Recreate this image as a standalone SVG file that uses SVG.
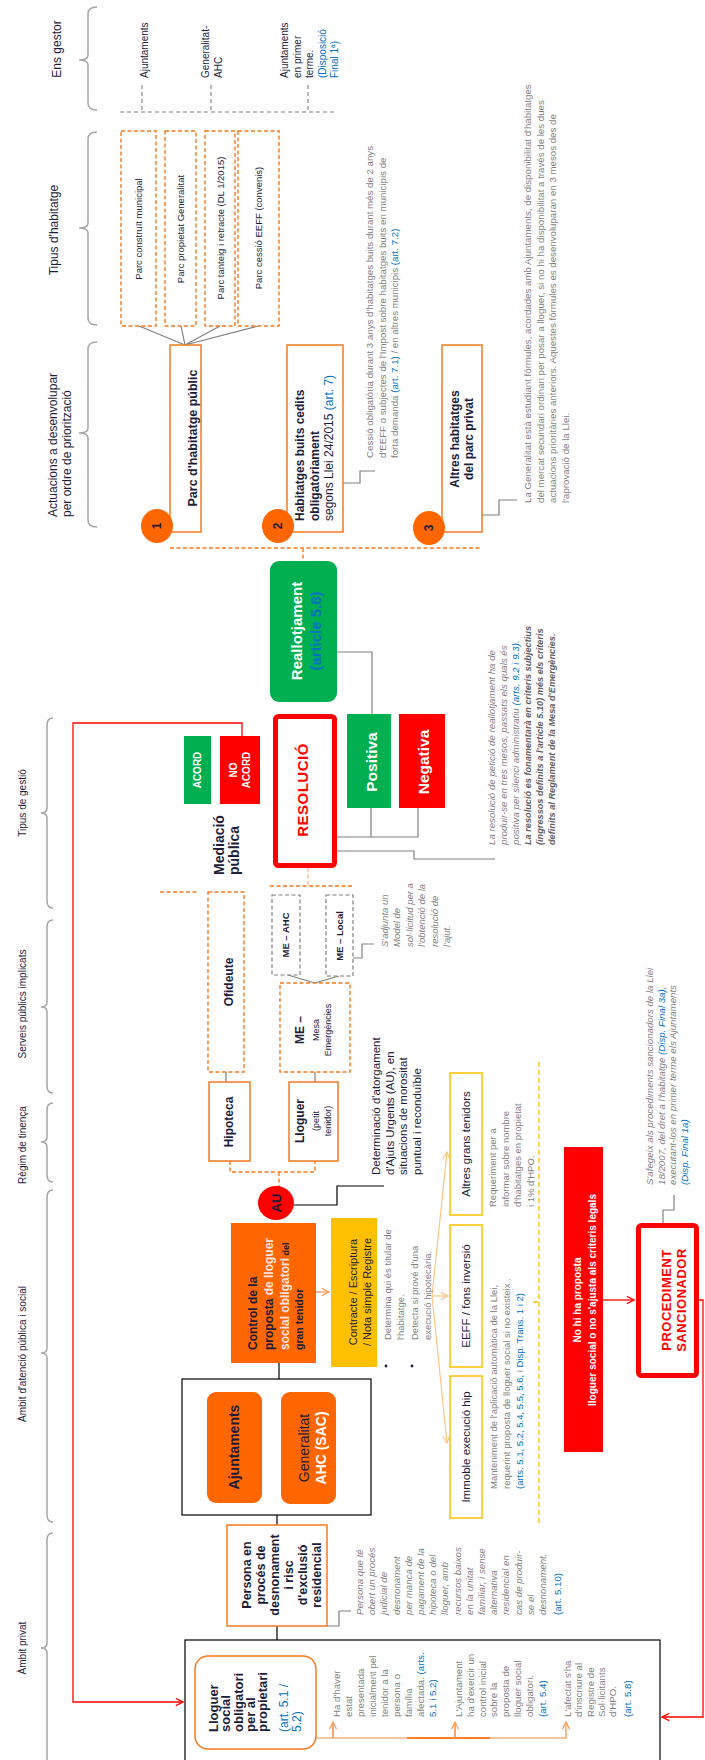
<svg xmlns="http://www.w3.org/2000/svg" width="705" height="1760" viewBox="0 0 705 1760">
<style>
text{font-family:"Liberation Sans",Arial,sans-serif}
.dk{fill:#1c1c3a}.gr{fill:#7f7f7f}.bl{fill:#0070c0}.wh{fill:#fff}.rd{fill:#f00}
.b{font-weight:bold}.i{font-style:italic}
.m{text-anchor:middle}
.brace{fill:none;stroke:#a6a6a6;stroke-width:1.5}
.od{fill:#fff;stroke:#f47b20;stroke-width:1.4;stroke-dasharray:4 2.5}
.odl{fill:none;stroke:#f47b20;stroke-width:1.4;stroke-dasharray:4 2.5}
.ob{fill:#fff;stroke:#f47b20;stroke-width:1.5}
.gd{fill:#fff;stroke:#808080;stroke-width:1.2;stroke-dasharray:4 2.5}
.gl{fill:none;stroke:#808080;stroke-width:1.2}
.gdl{fill:none;stroke:#808080;stroke-width:1.1;stroke-dasharray:4 3}
.kl{fill:none;stroke:#000;stroke-width:1.2}
.yb{fill:#fff;stroke:#ffc000;stroke-width:1.5}
.n10{font-size:10px}.n97{font-size:9.7px}
</style>
<defs>
<marker id="aR" viewBox="0 0 10 10" refX="9" refY="5" markerWidth="9" markerHeight="9" markerUnits="userSpaceOnUse" orient="auto"><path d="M1,1 L9,5 L1,9" fill="none" stroke="#f00" stroke-width="1.4"/></marker>
<marker id="aO" viewBox="0 0 10 10" refX="9" refY="5" markerWidth="9" markerHeight="9" markerUnits="userSpaceOnUse" orient="auto"><path d="M1,1 L9,5 L1,9" fill="none" stroke="#f4a060" stroke-width="1.4"/></marker>
<marker id="aY" viewBox="0 0 10 10" refX="9" refY="5" markerWidth="9" markerHeight="9" markerUnits="userSpaceOnUse" orient="auto"><path d="M1,1 L9,5 L1,9" fill="none" stroke="#f9c784" stroke-width="1.3"/></marker>
</defs>
<rect width="705" height="1760" fill="#fff"/>

<g id="labels">
<path class="brace" d="M97,7 Q88,7 88,14 L88,55 Q88,60 79,60 Q88,60 88,65 L88,103 Q88,110 97,110"/>
<path class="brace" d="M97,132 Q88,132 88,139 L88,223 Q88,228 79,228 Q88,228 88,233 L88,318 Q88,325 97,325"/>
<path class="brace" d="M97,342 Q88,342 88,349 L88,428 Q88,433 79,433 Q88,433 88,438 L88,520 Q88,527 97,527"/>
<path class="brace" d="M53,718 Q47,718 47,725 L47,808 Q47,813 41,813 Q47,813 47,818 L47,901 Q47,908 53,908"/>
<path class="brace" d="M53,920 Q47,920 47,927 L47,1002 Q47,1007 41,1007 Q47,1007 47,1012 L47,1086 Q47,1093 53,1093"/>
<path class="brace" d="M53,1103 Q47,1103 47,1110 L47,1137 Q47,1142 41,1142 Q47,1142 47,1147 L47,1175 Q47,1182 53,1182"/>
<path class="brace" d="M53,1190 Q47,1190 47,1197 L47,1348 Q47,1353 41,1353 Q47,1353 47,1358 L47,1515 Q47,1522 53,1522"/>
<path class="brace" d="M53,1533 Q47,1533 47,1540 L47,1643 Q47,1648 41,1648 Q47,1648 47,1653 L47,1775"/>
<text class="dk m" font-size="12" transform="translate(61,49) rotate(-90)">Ens gestor</text>
<text class="dk m" font-size="12" transform="translate(58,230) rotate(-90)">Tipus d'habitatge</text>
<text class="dk" font-size="12" transform="translate(57,517) rotate(-90)"><tspan x="0" y="0">Actuacions a desenvolupar</tspan><tspan x="0" dy="14">per ordre de priorització</tspan></text>
<text class="dk m n10" transform="translate(26,803) rotate(-90)">Tipus de gestió</text>
<text class="dk m n10" transform="translate(26,1004) rotate(-90)">Serveis públics implicats</text>
<text class="dk m n10" transform="translate(26,1145) rotate(-90)">Règim de tinença</text>
<text class="dk m n10" transform="translate(26,1354) rotate(-90)">Àmbit d'atenció pública i social</text>
<text class="dk m n10" transform="translate(26,1648) rotate(-90)">Àmbit privat</text>
</g>

<g id="connectors">
<path class="gdl" d="M142,85 V112 M211,85 V112 M308,85 V112 M120,112 H335"/>
<path class="gl" d="M139,326 L185,345 M181,326 L185,345 M220,326 L185,345 M258,326 L185,345"/>
<path class="gl" d="M343,483 H360 V471 H375"/>
<path class="gl" d="M482,515 H499 V500 H517"/>
<path class="odl" d="M170,548 H480 M303,548 V561"/>
<path class="gl" d="M337,652 H372 V714"/>
<path class="gl" d="M371,808 V837 M418,808 V837 M337,837 H418"/>
<path class="gl" d="M337,851 H414 V859 H495"/>
<path fill="none" stroke="#f00" stroke-width="1.3" d="M242,736 V723 H73 V1702 H183" marker-end="url(#aR)"/>
<path class="odl" d="M160,892 H198 M270,886 H353"/>
<path fill="none" stroke="#f8b88a" stroke-width="1.3" stroke-dasharray="4 2.5" d="M308,868 V886"/>
<path class="gl" d="M288,975 L315,983 M339,976 L315,983"/>
<path class="gl" d="M353,958 H362 V944 H374"/>
<path class="gl" d="M226,1072 V1082 M315,1072 V1082"/>
<path class="odl" d="M230,1161 V1172 H315 V1161 M279,1172 V1187"/>
<path class="kl" d="M294,1205 H337 V1186 H384"/>
<path fill="none" stroke="#f4a060" stroke-width="1.4" d="M316,1292 H329" marker-end="url(#aO)"/>
<path fill="none" stroke="#f9c784" stroke-width="1.2" d="M432,1296 L447,1152" marker-end="url(#aY)"/>
<path fill="none" stroke="#f9c784" stroke-width="1.2" d="M432,1296 L448,1296" marker-end="url(#aY)"/>
<path fill="none" stroke="#f9c784" stroke-width="1.2" d="M432,1296 L447,1443" marker-end="url(#aY)"/>
<path fill="none" stroke="#ffc000" stroke-width="1.4" stroke-dasharray="5 3" d="M539,1062 V1523 M533,1302 H539"/>
<path fill="none" stroke="#f00" stroke-width="1.3" d="M603,1300 H634" marker-end="url(#aR)"/>
<path class="gl" d="M663,1223 V1210 H674 V1195"/>
<path fill="none" stroke="#f00" stroke-width="1.3" d="M699,1300 H703 V1717 H662" marker-end="url(#aR)"/>
<path class="kl" d="M279,1363 V1379 M277,1515 V1525 M277,1626 V1640"/>
<path class="gl" d="M327,1626 H339 V1611 H351"/>
<path fill="none" stroke="#f4b183" stroke-width="1.4" d="M316,1738 H567"/>
<path fill="none" stroke="#ff6600" stroke-width="1.4" d="M407,1738 H490"/>
<path fill="none" stroke="#f4a060" stroke-width="1.4" d="M333,1738 V1722 M455,1738 V1722 M566,1738 V1722" marker-end="url(#aO)"/>
<path fill="none" stroke="#f4a060" stroke-width="1.4" d="M333,1738 V1722" marker-end="url(#aO)"/>
<path fill="none" stroke="#f4a060" stroke-width="1.4" d="M455,1738 V1722" marker-end="url(#aO)"/>
</g>

<g id="gestors">
<text class="dk n10" transform="translate(148,78) rotate(-90)">Ajuntaments</text>
<text class="dk n10" transform="translate(209,78) rotate(-90)"><tspan x="0" y="0">Generalitat-</tspan><tspan x="0" dy="13">AHC</tspan></text>
<text class="dk n10" transform="translate(288,78) rotate(-90)"><tspan x="0" y="0">Ajuntaments</tspan><tspan x="0" dy="12.5">en primer</tspan><tspan x="0" dy="12.5">terme.</tspan><tspan x="0" dy="12.5" class="bl">(Disposició</tspan><tspan x="0" dy="12.5" class="bl">Final 1ª)</tspan></text>
</g>

<g id="parc-municipal"><rect class="od" x="121" y="131" width="35" height="195"/><text class="dk m" font-size="9.5" transform="translate(142,229) rotate(-90)">Parc construït municipal</text></g>
<g id="parc-generalitat"><rect class="od" x="165" y="131" width="31" height="195"/><text class="dk m" font-size="9.5" transform="translate(184,229) rotate(-90)">Parc propietat Generalitat</text></g>
<g id="parc-tanteig"><rect class="od" x="205" y="131" width="30" height="195"/><text class="dk m" font-size="9.5" transform="translate(224,228) rotate(-90)">Parc tanteig i retracte (DL 1/2015)</text></g>
<g id="parc-eeff"><rect class="od" x="238" y="131" width="41" height="195"/><text class="dk m" font-size="9.5" transform="translate(262,228) rotate(-90)">Parc cessió EEFF (convenis)</text></g>

<g id="act1"><rect class="ob" x="170" y="345" width="31" height="187"/><text class="dk m b" font-size="12.5" transform="translate(197,438) rotate(-90)">Parc d'habitatge públic</text>
<ellipse cx="157" cy="526" rx="16" ry="17" fill="#ff6600"/><text class="dk m b" font-size="12" transform="translate(161,526) rotate(-90)">1</text></g>
<g id="act2"><rect class="ob" x="287" y="345" width="56" height="187"/>
<text class="dk" font-size="12" transform="translate(304,521) rotate(-90)"><tspan x="0" y="0" class="b">Habitatges buits cedits</tspan><tspan x="0" dy="14.5" class="b">obligatòriament</tspan><tspan x="0" dy="14.5">segons Llei 24/2015 <tspan class="bl">(art. 7)</tspan></tspan></text>
<ellipse cx="278" cy="526" rx="16" ry="17" fill="#ff6600"/><text class="dk m b" font-size="12" transform="translate(282,526) rotate(-90)">2</text></g>
<g id="act3"><rect class="ob" x="442" y="345" width="40" height="187"/>
<text class="dk m b" font-size="12" transform="translate(459,439) rotate(-90)"><tspan x="0" y="0">Altres habitatges</tspan><tspan x="0" dy="13.5">del parc privat</tspan></text>
<ellipse cx="429" cy="528" rx="16" ry="17" fill="#ff6600"/><text class="dk m b" font-size="12" transform="translate(433,528) rotate(-90)">3</text></g>

<g id="note-act2"><text class="gr n97" transform="translate(373,458) rotate(-90)"><tspan x="0" y="0">Cessió obligatòria  durant 3 anys d'habitatges buits durant més de 2 anys</tspan><tspan x="0" dy="12.5">d'EEFF o  subjectes de l'Impost sobre habitatges buits en municipis de</tspan><tspan x="0" dy="12.5">forta demanda <tspan class="bl">(art. 7.1)</tspan> / en altres municipis <tspan class="bl">(art. 7.2)</tspan></tspan></text></g>
<g id="note-act3"><text class="gr n97" transform="translate(531,503) rotate(-90)"><tspan x="0" y="0">La Generalitat està estudiant fórmules, acordades amb Ajuntaments, de disponibilitat d'habitatges</tspan><tspan x="0" dy="12.5">del mercat secundari ordinari per posar a lloguer, si no hi ha disponibilitat a través de les dues</tspan><tspan x="0" dy="12.5">actuacions prioritàries anteriors. Aquestes fórmules es desenvoluparan en 3 mesos des de</tspan><tspan x="0" dy="12.5">l'aprovació de la Llei.</tspan></text></g>

<g id="reallotjament"><rect x="270" y="561" width="67" height="141" rx="9" fill="#00b050"/>
<text class="m b" font-size="15" transform="translate(302,631) rotate(-90)"><tspan x="0" y="0" class="wh">Reallotjament</tspan><tspan x="0" dy="19" class="bl">(article 5.6)</tspan></text></g>

<g id="resolucio"><rect x="275.5" y="716.5" width="59" height="149" rx="3" fill="#fff" stroke="#f00" stroke-width="5"/>
<text class="rd m b" font-size="15" letter-spacing="0.5" transform="translate(308,790) rotate(-90)">RESOLUCIÓ</text></g>
<g id="positiva"><rect x="347" y="714" width="44" height="94" fill="#00b050"/><text class="wh m b" font-size="15.5" transform="translate(377,762) rotate(-90)">Positiva</text></g>
<g id="negativa"><rect x="399" y="714" width="46" height="94" fill="#f00"/><text class="wh m b" font-size="15.5" transform="translate(429,762) rotate(-90)">Negativa</text></g>
<g id="note-resolucio"><text class="gr i n97" transform="translate(495,845) rotate(-90)"><tspan x="0" y="0">La resolució de petició de reallotjament ha de</tspan><tspan x="0" dy="12">produir-se en tres mesos, passats els quals és</tspan><tspan x="0" dy="12">positiva per silenci administratiu <tspan class="bl">(arts. 9.2 i 9.3)</tspan>.</tspan><tspan x="0" dy="12" class="b" font-size="9.2" fill="#5f5f5f">La resolució es fonamentarà en criteris subjectius</tspan><tspan x="0" dy="12" class="b" font-size="9.2" fill="#5f5f5f">(ingressos definits a l'article 5.10) més els criteris</tspan><tspan x="0" dy="12" class="b" font-size="9.2" fill="#5f5f5f">definits al Reglament de la Mesa d'Emergències.</tspan></text></g>

<g id="acord"><rect x="184" y="736" width="27" height="68" fill="#00b050"/><text class="wh m b" font-size="10" transform="translate(201,770) rotate(-90)">ACORD</text></g>
<g id="no-acord"><rect x="220" y="736" width="40" height="68" fill="#f00"/><text class="wh m b" font-size="10" transform="translate(237,770) rotate(-90)"><tspan x="0" y="0">NO</tspan><tspan x="0" dy="13">ACORD</tspan></text></g>
<g id="mediacio"><text class="dk b" font-size="14" transform="translate(224,875) rotate(-90)"><tspan x="0" y="0">Mediació</tspan><tspan x="0" dy="14.5">pública</tspan></text></g>

<g id="ofideute"><rect class="od" x="208" y="892" width="36" height="180"/><text class="dk m b" font-size="12" transform="translate(233,982) rotate(-90)">Ofideute</text></g>
<g id="me-ahc"><rect class="gd" x="272" y="895" width="28" height="80"/><text class="dk m b" font-size="9.5" transform="translate(289,935) rotate(-90)">ME – AHC</text></g>
<g id="me-local"><rect class="gd" x="326" y="895" width="27" height="81"/><text class="dk m b" font-size="9.5" transform="translate(343,936) rotate(-90)">ME – Local</text></g>
<g id="note-me"><text class="gr i" font-size="9.5" transform="translate(388,947) rotate(-90)"><tspan x="0" y="0">S'adjunta un</tspan><tspan x="0" dy="12.4">Model de</tspan><tspan x="0" dy="12.4">sol·licitud per a</tspan><tspan x="0" dy="12.4">l'obtenció de la</tspan><tspan x="0" dy="12.4">resolució de</tspan><tspan x="0" dy="12.4">l'ajut.</tspan></text></g>
<g id="me-mesa"><rect class="od" x="280" y="983" width="70" height="89"/>
<text class="dk m" transform="translate(304,1030) rotate(-90)"><tspan x="0" y="0" class="b" font-size="12">ME –</tspan><tspan x="0" dy="15" font-size="9">Mesa</tspan><tspan x="0" dy="12" font-size="9">Emergències</tspan></text></g>

<g id="hipoteca"><rect class="ob" x="209" y="1082" width="41" height="79"/><text class="dk m b" font-size="12" transform="translate(233,1122) rotate(-90)">Hipoteca</text></g>
<g id="lloguer-petit"><rect class="ob" x="289" y="1082" width="49" height="79"/>
<text class="dk m" transform="translate(304,1121) rotate(-90)"><tspan x="0" y="0" class="b" font-size="12">Lloguer</tspan><tspan x="0" dy="15" font-size="9">(petit</tspan><tspan x="0" dy="12" font-size="9">tenidor)</tspan></text></g>

<g id="au"><ellipse cx="276" cy="1203" rx="18" ry="17" fill="#f00"/><text class="dk m b" font-size="13" transform="translate(281,1203) rotate(-90)">AU</text></g>
<g id="text-au"><text class="dk" font-size="11.5" transform="translate(380,1175) rotate(-90)"><tspan x="0" y="0">Determinació d'atorgament</tspan><tspan x="0" dy="13.6">d'Ajuts Urgents (AU), en</tspan><tspan x="0" dy="13.6">situacions de morositat</tspan><tspan x="0" dy="13.6">puntual i reconduïble</tspan></text></g>

<g id="control"><rect x="231" y="1223" width="85" height="140" fill="#ff6600"/>
<text class="b" font-size="12" transform="translate(257,1350) rotate(-90)"><tspan x="0" y="0" class="dk">Control de la</tspan><tspan x="0" dy="16"><tspan class="dk">proposta </tspan><tspan fill="#fde4e4">de lloguer</tspan></tspan><tspan x="0" dy="16"><tspan fill="#fde4e4">social obligatori</tspan><tspan class="dk" font-size="9"> del</tspan></tspan><tspan x="0" dy="14" class="dk" font-size="10.5">gran tenidor</tspan></text></g>

<g id="contracte"><rect x="331" y="1218" width="46" height="149" fill="#ffc000"/>
<text class="dk m" font-size="11" transform="translate(357,1292) rotate(-90)"><tspan x="0" y="0">Contracte / Escriptura</tspan><tspan x="0" dy="14">/ Nota simple Registre</tspan></text></g>
<g id="bullets"><circle cx="386" cy="1366" r="1.4" fill="#1c1c3a"/><circle cx="412" cy="1366" r="1.4" fill="#1c1c3a"/>
<text class="gr" font-size="9.5" transform="translate(391,1340) rotate(-90)"><tspan x="0" y="0">Determina qui és titular de</tspan><tspan x="0" dy="13.3">l'habitatge.</tspan><tspan x="0" dy="13.3">Detecta si prové d'una</tspan><tspan x="0" dy="13.3">execució hipotecària.</tspan></text></g>

<g id="altres-grans"><rect class="yb" x="450" y="1073" width="32" height="142"/><text class="dk m" font-size="11.5" transform="translate(470,1144) rotate(-90)">Altres grans tenidors</text></g>
<g id="eeff"><rect class="yb" x="450" y="1225" width="32" height="142"/><text class="dk m" font-size="11.5" transform="translate(470,1296) rotate(-90)">EEFF / fons inversió</text></g>
<g id="immoble"><rect class="yb" x="450" y="1376" width="32" height="142"/><text class="dk m" font-size="11.5" transform="translate(470,1447) rotate(-90)">Immoble execució hip</text></g>
<g id="note-altres"><text class="gr" font-size="9.5" transform="translate(496,1207) rotate(-90)"><tspan x="0" y="0">Requeriment  per a</tspan><tspan x="0" dy="12.5">informar sobre nombre</tspan><tspan x="0" dy="12.5">d'habitatges en propietat</tspan><tspan x="0" dy="12.5">i 1% d'HPO.</tspan></text></g>
<g id="note-manteniment"><text class="gr" font-size="9.5" transform="translate(497,1489) rotate(-90)"><tspan x="0" y="0">Manteniment de l'aplicació automàtica de la Llei,</tspan><tspan x="0" dy="13">requerint proposta de lloguer social si no existeix .</tspan><tspan x="0" dy="13"><tspan class="bl">(arts. 5.1, 5.2,  5.4, 5.5, 5.6,</tspan>  i <tspan class="bl">Disp. Trans. 1 i 2)</tspan></tspan></text></g>

<g id="no-proposta"><rect x="564" y="1147" width="39" height="305" fill="#f00"/>
<text class="wh m b" font-size="10" transform="translate(581,1300) rotate(-90)"><tspan x="0" y="0">No hi ha proposta</tspan><tspan x="0" dy="14.5">lloguer social o no s'ajusta als criteris legals</tspan></text></g>
<g id="sancionador"><rect x="638.5" y="1225.5" width="58" height="150" rx="3" fill="#fff" stroke="#f00" stroke-width="5"/>
<text class="rd m b" font-size="13" letter-spacing="0.5" transform="translate(671,1300) rotate(-90)"><tspan x="0" y="0">PROCEDIMENT</tspan><tspan x="0" dy="15">SANCIONADOR</tspan></text></g>
<g id="note-sancionador"><text class="gr i n97" transform="translate(653,1185) rotate(-90)"><tspan x="0" y="0">S'afegeix als procediments sancionadors de la Llei</tspan><tspan x="0" dy="11.7">18/2007, del dret a l'habitatge <tspan class="bl">(Disp. Final 3a)</tspan>,</tspan><tspan x="0" dy="11.7">executant-los en primer terme els Ajuntaments</tspan><tspan x="0" dy="11.7" class="bl">(Disp. Final 1a)</tspan></text></g>

<g id="administracions"><rect x="182" y="1379" width="189" height="136" fill="#fff" stroke="#000" stroke-width="1.2"/>
<rect x="207" y="1392" width="55" height="111" rx="9" fill="#ff6600"/>
<text class="dk m b" font-size="14" transform="translate(239,1447) rotate(-90)">Ajuntaments</text>
<rect x="281" y="1392" width="55" height="112" rx="9" fill="#ff6600"/>
<text class="m" font-size="14" transform="translate(309,1448) rotate(-90)"><tspan x="0" y="0" class="dk">Generalitat</tspan><tspan x="0" dy="17" class="wh b">AHC (SAC)</tspan></text></g>

<g id="persona"><rect class="ob" x="227" y="1525" width="100" height="101"/>
<text class="dk m b" font-size="12.5" transform="translate(251,1575) rotate(-90)"><tspan x="0" y="0">Persona en</tspan><tspan x="0" dy="14">procés de</tspan><tspan x="0" dy="14">desnonament</tspan><tspan x="0" dy="14">i risc</tspan><tspan x="0" dy="14">d'exclusió</tspan><tspan x="0" dy="14">residencial</tspan></text></g>
<g id="note-persona"><text class="gr i n97" transform="translate(363,1615) rotate(-90)"><tspan x="0" y="0">Persona que té</tspan><tspan x="0" dy="12.2">obert un procés</tspan><tspan x="0" dy="12.2">judicial de</tspan><tspan x="0" dy="12.2">desnonament</tspan><tspan x="0" dy="12.2">per manca de</tspan><tspan x="0" dy="12.2">pagament de la</tspan><tspan x="0" dy="12.2">hipoteca o del</tspan><tspan x="0" dy="12.2">lloguer, amb</tspan><tspan x="0" dy="12.2">recursos baixos</tspan><tspan x="0" dy="12.2">en la unitat</tspan><tspan x="0" dy="12.2">familiar, i sense</tspan><tspan x="0" dy="12.2">alternativa</tspan><tspan x="0" dy="12.2">residencial en</tspan><tspan x="0" dy="12.2">cas de produir-</tspan><tspan x="0" dy="12.2">se el</tspan><tspan x="0" dy="12.2">desnonament.</tspan><tspan x="0" dy="15" class="bl" font-style="normal">(art. 5.10)</tspan></text></g>

<g id="lloguer-social"><rect x="185" y="1640" width="475" height="140" fill="none" stroke="#000" stroke-width="1.2"/>
<rect x="195" y="1656" width="121" height="93" rx="13" fill="#fff" stroke="#f47b20" stroke-width="1.5"/>
<text font-size="13" transform="translate(218,1732) rotate(-90)"><tspan x="0" y="0" class="dk b">Lloguer</tspan><tspan x="0" dy="12.3" class="dk b">social</tspan><tspan x="0" dy="12.3" class="dk b">obligatori</tspan><tspan x="0" dy="12.3" class="dk b">per al</tspan><tspan x="0" dy="12.3" class="dk b">propietari</tspan><tspan x="0" dy="20.8" class="bl" font-size="12">(art. 5.1 /</tspan><tspan x="0" dy="13" class="bl" font-size="12">5.2)</tspan></text>
<text class="gr n97" transform="translate(340,1717) rotate(-90)"><tspan x="0" y="0">Ha d'haver</tspan><tspan x="0" dy="12">estat</tspan><tspan x="0" dy="12">presentada</tspan><tspan x="0" dy="12">inicialment pel</tspan><tspan x="0" dy="12">tenidor a la</tspan><tspan x="0" dy="12">persona o</tspan><tspan x="0" dy="12">família</tspan><tspan x="0" dy="12">afectada. <tspan class="bl">(arts.</tspan></tspan><tspan x="0" dy="12" class="bl">5.1 i 5.2)</tspan></text>
<text class="gr n97" transform="translate(462,1717) rotate(-90)"><tspan x="0" y="0">L'Ajuntament</tspan><tspan x="0" dy="11.8">ha d'exercir un</tspan><tspan x="0" dy="11.8">control inicial</tspan><tspan x="0" dy="11.8">sobre la</tspan><tspan x="0" dy="11.8">proposta de</tspan><tspan x="0" dy="11.8">lloguer social</tspan><tspan x="0" dy="11.8">obligatori.</tspan><tspan x="0" dy="13" class="bl">(art. 5.4)</tspan></text>
<text class="gr n97" transform="translate(571,1717) rotate(-90)"><tspan x="0" y="0">L'afectat s'ha</tspan><tspan x="0" dy="11.3">d'inscriure al</tspan><tspan x="0" dy="11.3">Registre de</tspan><tspan x="0" dy="11.3">Sol·licitants</tspan><tspan x="0" dy="11.3">d'HPO.</tspan><tspan x="0" dy="15" class="bl">(art. 5.8)</tspan></text></g>
</svg>
